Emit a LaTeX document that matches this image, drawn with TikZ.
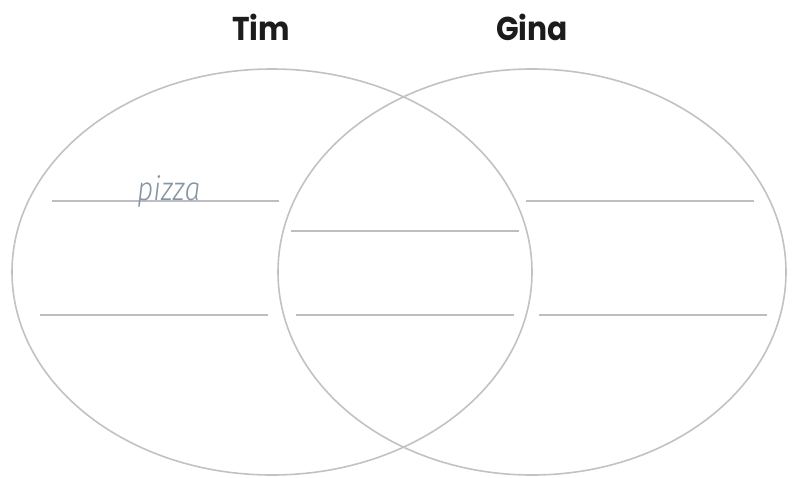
\documentclass[tikz,border=0pt]{standalone}
\usepackage{fontspec}
\usepackage{xcolor}
\usetikzlibrary{positioning}
\newfontfamily\headfont{Poppins}[FakeStretch=0.9]
\newfontfamily\notefont{Fira Sans Light Italic}[FakeStretch=0.86]
\definecolor{vnRing}{HTML}{C2C2C6}
\definecolor{vnRule}{HTML}{BDBDC3}
\definecolor{vnNote}{HTML}{8595A3}
\definecolor{vnHead}{HTML}{1C1C1C}

\begin{document}
\begin{tikzpicture}[
  x=1pt, y=-1pt,
  ring/.style={draw=vnRing,line width=1.6pt},
  rule/.style={draw=vnRule,line width=2pt},
  head/.style={font=\headfont\bfseries\fontsize{33}{38}\selectfont,text=vnHead,anchor=base},
  note/.style={font=\notefont\fontsize{33}{38}\selectfont,text=vnNote,anchor=base west,inner sep=0pt},
]
  \useasboundingbox (0,0) rectangle (795,477);

  % the two sets
  \draw[ring] (272,272) ellipse [x radius=260, y radius=203];
  \draw[ring] (532,272) ellipse [x radius=254, y radius=203];

  \node[head] (tim) at (261,40) {Tim};
  \node[head] (gina) at (532,40) {Gina};

  % writing lines
  \coordinate (l1a) at (52,201);  \coordinate (l1b) at (279,201);
  \coordinate (c1a) at (291,231); \coordinate (c1b) at (519,231);
  \coordinate (r1a) at (526,201); \coordinate (r1b) at (754,201);
  \coordinate (l2a) at (40,315);  \coordinate (l2b) at (268,315);
  \coordinate (c2a) at (296,315); \coordinate (c2b) at (514,315);
  \coordinate (r2a) at (539,315); \coordinate (r2b) at (767,315);
  \draw[rule] (l1a) -- (l1b);
  \draw[rule] (c1a) -- (c1b);
  \draw[rule] (r1a) -- (r1b);
  \draw[rule] (l2a) -- (l2b);
  \draw[rule] (c2a) -- (c2b);
  \draw[rule] (r2a) -- (r2b);

  \node[note] (pizza) at (137,200) {pizza};
\end{tikzpicture}
\end{document}
